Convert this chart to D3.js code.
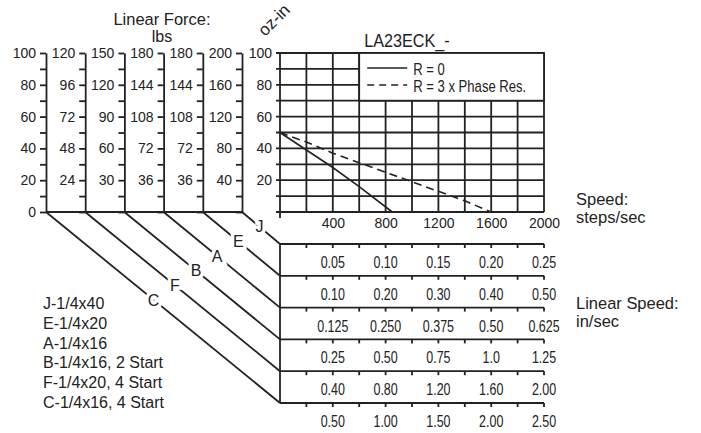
<!DOCTYPE html>
<html>
<head>
<meta charset="utf-8">
<script src="https://cdn.jsdelivr.net/npm/d3@7"></script>
<style>
  body { margin: 0; background: #fff; }
  svg { display: block; }
</style>
</head>
<body>
<div id="chart"></div>
<script>
// chart size
var width = 701
var height = 433

// left force axes, left to right, and the screw each one belongs to
var forceLabels = [
  [0, 20, 40, 60, 80, 100],
  [24, 48, 72, 96, 120],
  [30, 60, 90, 120, 150],
  [36, 72, 108, 144, 180],
  [36, 72, 108, 144, 180],
  [40, 80, 120, 160, 200]
]
var axisScrew = ["C", "F", "B", "A", "E", "J"]

// torque (oz-in) and speed (steps/sec) ticks
var torqueLabels = [20, 40, 60, 80, 100]
var stepLabels = [400, 800, 1200, 1600, 2000]

// screws, top to bottom, and their linear speed labels
var screws = ["J", "E", "A", "B", "F", "C"]
var screwNames = ["J-1/4x40", "E-1/4x20", "A-1/4x16", "B-1/4x16, 2 Start", "F-1/4x20, 4 Start", "C-1/4x16, 4 Start"]
var linSpeeds = [
  ["0.05", "0.10", "0.15", "0.20", "0.25"],
  ["0.10", "0.20", "0.30", "0.40", "0.50"],
  ["0.125", "0.250", "0.375", "0.50", "0.625"],
  ["0.25", "0.50", "0.75", "1.0", "1.25"],
  ["0.40", "0.80", "1.20", "1.60", "2.00"],
  ["0.50", "1.00", "1.50", "2.00", "2.50"]
]

// torque curves
var r0Speed = [0, 200, 400, 600, 850]
var r0Torque = [50, 39, 28, 16, 0]
var r3Speed = [0, 200, 400, 600, 800, 1000, 1200, 1400, 1600]
var r3Torque = [50, 44, 37, 31, 25, 19, 13, 7, 0]

var svg = d3.select("#chart")
  .append("svg")
    .attr("width", width)
    .attr("height", height)
    .style("font-family", "'Liberation Sans', Arial, sans-serif")

var LW = 1.8

// scales
var x = d3.scaleLinear().domain([0, 2000]).range([280, 544])
var y = d3.scaleLinear().domain([0, 100]).range([212, 53])
var ax = d3.scalePoint().domain(d3.range(forceLabels.length)).range([46, 242])
var band = d3.scalePoint().domain(screws).range([244, 403])

// text helper, sx squeezes the glyphs horizontally
function label(g, str, px, py, size, sx, anchor) {
  return g.append("text")
    .attr("transform", "translate(" + px + "," + py + ") scale(" + sx + ",1)")
    .attr("font-size", size)
    .attr("text-anchor", anchor || "start")
    .attr("fill", "#222")
    .text(str)
}

function styleAxis(g, size) {
  g.attr("font-family", null).attr("font-size", size)
  g.selectAll("line, path").attr("stroke", "#222").attr("stroke-width", LW)
  g.selectAll("text").attr("fill", "#222")
}

// left force axes
forceLabels.forEach(function(labels, i) {
  var top = d3.max(labels)
  var fy = d3.scaleLinear().domain([0, top]).range([y(0), y(100)])
  var vals = d3.range(11).map(function(k) { return top * k / 10 })
  var g = svg.append("g").attr("transform", "translate(" + ax(i) + ",0)")
    .call(d3.axisLeft(fy)
      .tickValues(vals)
      .tickSize(6)
      .tickSizeOuter(0)
      .tickPadding(4)
      .tickFormat(function(v) {
        return labels.some(function(l) { return Math.abs(l - v) < 1e-6 }) ? v : ""
      }))
  styleAxis(g, 14)
})

var lines = svg.append("g").attr("stroke", "#222").attr("stroke-width", LW).attr("fill", "none")

// baseline under the force axes
lines.append("line")
  .attr("x1", ax(0)).attr("x2", ax(forceLabels.length - 1))
  .attr("y1", y(0)).attr("y2", y(0))

// main grid
d3.range(0, 101, 10).forEach(function(v) {
  lines.append("line")
    .attr("x1", x(0) - 4).attr("x2", x(2000))
    .attr("y1", y(v)).attr("y2", y(v))
})
d3.range(0, 2001, 200).forEach(function(v) {
  lines.append("line")
    .attr("x1", x(v)).attr("x2", x(v))
    .attr("y1", v == 0 ? y(0) + 6 : y(0)).attr("y2", y(100))
})

// torque labels
var gy = svg.append("g").attr("transform", "translate(" + x(0) + ",0)")
  .call(d3.axisLeft(y).tickValues(torqueLabels).tickSize(0).tickPadding(8))
gy.select(".domain").remove()
styleAxis(gy, 14)

// step labels
var gx = svg.append("g").attr("transform", "translate(0," + y(0) + ")")
  .call(d3.axisBottom(x).tickValues(stepLabels).tickSize(0).tickPadding(6).tickFormat(d3.format("d")))
gx.select(".domain").remove()
styleAxis(gx, 14)

// legend box
svg.append("rect")
  .attr("x", x(600)).attr("y", y(100))
  .attr("width", x(2000) - x(600)).attr("height", y(70) - y(100))
  .attr("fill", "#fff").attr("stroke", "#222").attr("stroke-width", LW)

var lx = x(600)
svg.append("line").attr("x1", lx + 8).attr("x2", lx + 48).attr("y1", 68).attr("y2", 68)
  .attr("stroke", "#222").attr("stroke-width", 1.6)
svg.append("line").attr("x1", lx + 8).attr("x2", lx + 48).attr("y1", 85).attr("y2", 85)
  .attr("stroke", "#222").attr("stroke-width", 1.6).attr("stroke-dasharray", "7,5")
label(svg, "R = 0", lx + 54, 74.5, 17, 0.77)
label(svg, "R = 3 x Phase Res.", lx + 54, 92, 17, 0.77)

// torque curves
var line = d3.line()
  .x(function(d) { return x(d[0]) })
  .y(function(d) { return y(d[1]) })
svg.append("path")
  .datum(d3.zip(r0Speed, r0Torque))
  .attr("d", line)
  .attr("fill", "none").attr("stroke", "#222").attr("stroke-width", 1.6)
svg.append("path")
  .datum(d3.zip(r3Speed, r3Torque))
  .attr("d", line)
  .attr("fill", "none").attr("stroke", "#222").attr("stroke-width", 1.6)
  .attr("stroke-dasharray", "8,5")

// linear speed rows
lines.append("line")
  .attr("x1", x(0)).attr("x2", x(0))
  .attr("y1", band(screws[0])).attr("y2", band(screws[screws.length - 1]))
screws.forEach(function(s, j) {
  var by = band(s)
  lines.append("line")
    .attr("x1", x(0)).attr("x2", x(2000))
    .attr("y1", by).attr("y2", by)
  d3.range(200, 2001, 200).forEach(function(v) {
    lines.append("line")
      .attr("x1", x(v)).attr("x2", x(v))
      .attr("y1", by).attr("y2", by + 4)
  })
  linSpeeds[j].forEach(function(t, k) {
    label(svg, t, x(stepLabels[k]), by + 24, 16, 0.78, "middle")
  })
})

// diagonals from each force axis to its speed row
axisScrew.forEach(function(s, i) {
  var x1 = ax(i), y1 = y(0), x2 = x(0), y2 = band(s)
  lines.append("line")
    .attr("x1", x1).attr("y1", y1)
    .attr("x2", x2).attr("y2", y2)
  var t = 0.46
  svg.append("text")
    .attr("x", x1 + (x2 - x1) * t)
    .attr("y", y1 + (y2 - y1) * t + 5.7)
    .attr("text-anchor", "middle")
    .attr("font-size", 16)
    .attr("fill", "#222")
    .attr("stroke", "#fff").attr("stroke-width", 7)
    .attr("paint-order", "stroke")
    .text(s)
})

// screw list
screwNames.forEach(function(n, i) {
  label(svg, n, 43, 309 + 19.8 * i, 16, 1)
})

// titles
label(svg, "Linear Force:", 162, 25, 17, 0.97, "middle")
label(svg, "lbs", 162, 42, 16, 1, "middle")
svg.append("text")
  .attr("transform", "translate(278,24) rotate(-45)")
  .attr("text-anchor", "middle")
  .attr("font-size", 17)
  .attr("fill", "#222")
  .text("oz-in")
label(svg, "LA23ECK_-", 407, 47, 18, 0.9, "middle")
label(svg, "Speed:", 576, 205, 17, 0.97)
label(svg, "steps/sec", 576, 223, 17, 0.97)
label(svg, "Linear Speed:", 576, 309, 17, 0.97)
label(svg, "in/sec", 576, 327, 17, 0.97)
</script>
</body>
</html>
